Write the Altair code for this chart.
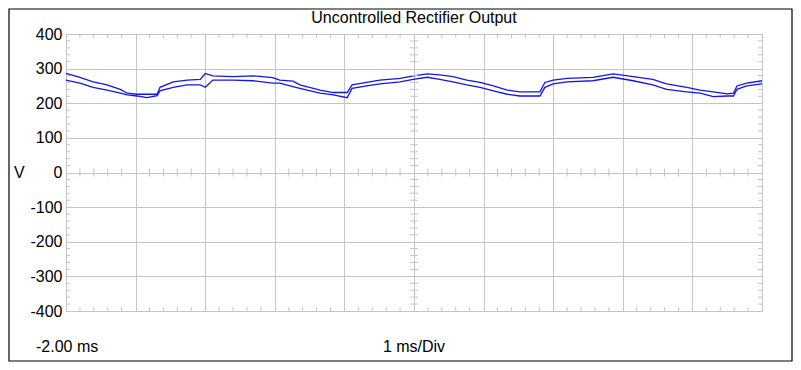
import altair as alt
import numpy as np
import pandas as pd

# ---- data ----
time_ms = [-2.00, -1.80, -1.61, -1.41, -1.22, -1.12, -0.98, -0.84, -0.69, -0.65,
           -0.46, -0.26, -0.07, 0.00, 0.11, 0.40, 0.69, 0.97, 1.07, 1.26,
           1.36, 1.65, 1.84, 2.04, 2.11, 2.32, 2.51, 2.80, 2.99, 3.19,
           3.37, 3.56, 3.76, 3.95, 4.14, 4.34, 4.52, 4.81, 4.88, 5.00,
           5.20, 5.57, 5.86, 6.15, 6.43, 6.63, 6.92, 7.11, 7.30, 7.50,
           7.59, 7.64, 7.78, 8.00]
upper_v = [286, 275, 262, 253, 240, 229, 226, 226, 226, 246,
           262, 267, 269, 286, 279, 277, 279, 274, 267, 264,
           253, 238, 231, 231, 253, 260, 267, 272, 279, 285,
           282, 277, 267, 260, 250, 238, 233, 233, 260, 267,
           272, 275, 285, 277, 269, 256, 246, 238, 233, 227,
           229, 250, 258, 265]
lower_v = [267, 258, 246, 238, 229, 224, 221, 216, 222, 236,
           246, 253, 253, 246, 267, 267, 265, 258, 258, 248,
           243, 229, 224, 216, 243, 250, 256, 262, 269, 275,
           269, 262, 253, 246, 236, 226, 221, 221, 246, 256,
           262, 265, 275, 265, 253, 240, 233, 229, 219, 221,
           221, 240, 250, 256]

x_major = [-2, -1, 0, 1, 2, 3, 4, 5, 6, 7, 8]
y_major = [-400, -300, -200, -100, 0, 100, 200, 300, 400]

title_text = "Uncontrolled Rectifier Output"
y_unit = "V"
x_start_label = "-2.00 ms"
x_div_label = "1 ms/Div"

# ---- layout ----
W, H = 696, 277
PAD = {"left": 58, "top": 26, "right": 31, "bottom": 51}
FONT = "Liberation Sans"
FS = 16
GRID = "#c4c4c4"
TRACE = "#1414f0"

xs = alt.Scale(domain=[-2, 8], nice=False, zero=False)
ys = alt.Scale(domain=[-400, 400], nice=False, zero=False)

trace_df = pd.concat([
    pd.DataFrame({"t": time_ms, "v": upper_v, "s": "upper"}),
    pd.DataFrame({"t": time_ms, "v": lower_v, "s": "lower"}),
])

# minor tick marks (1/5 division)
xt = [round(v, 2) for v in np.arange(-2, 8.001, 0.2) if abs(v - round(v)) > 1e-6]
yt = [int(v) for v in np.arange(-400, 401, 20) if int(v) % 100 != 0]
dx = 4 * 10 / W       # 4 px in ms
dy = 4 * 800 / H      # 4 px in V
xt_rows = []
for t in xt:
    xt_rows += [{"t": t, "a": 400, "b": 400 - dy},
                {"t": t, "a": -400, "b": -400 + dy},
                {"t": t, "a": -dy, "b": dy}]
yt_rows = []
for v in yt:
    yt_rows += [{"v": v, "a": -2, "b": -2 + dx},
                {"v": v, "a": 8, "b": 8 - dx},
                {"v": v, "a": 3 - dx, "b": 3 + dx}]

axis_x = alt.Axis(values=x_major, labels=False, ticks=False, domain=False,
                  title=None, grid=True, gridColor=GRID, gridWidth=1)
axis_y = alt.Axis(values=y_major, ticks=False, domain=False, title=None,
                  grid=True, gridColor=GRID, gridWidth=1,
                  labelFont=FONT, labelFontSize=FS, labelColor="black",
                  labelPadding=4, labelOverlap=False,
                  labelExpr="'' + datum.value")

lines = alt.Chart(trace_df).mark_line(strokeWidth=1.3, color=TRACE).encode(
    x=alt.X("t:Q", scale=xs, axis=axis_x),
    y=alt.Y("v:Q", scale=ys, axis=axis_y),
    detail="s:N",
)

xticks = alt.Chart(pd.DataFrame(xt_rows)).mark_rule(color=GRID, strokeWidth=1).encode(
    x=alt.X("t:Q", scale=xs, axis=axis_x),
    y=alt.Y("a:Q", scale=ys, axis=axis_y), y2="b:Q")
yticks = alt.Chart(pd.DataFrame(yt_rows)).mark_rule(color=GRID, strokeWidth=1).encode(
    y=alt.Y("v:Q", scale=ys, axis=axis_y),
    x=alt.X("a:Q", scale=xs, axis=axis_x), x2="b:Q")

txt = dict(font=FONT, fontSize=FS, color="black")
title_mark = alt.Chart(pd.DataFrame({"s": [title_text]})).mark_text(align="center", baseline="middle", **txt).encode(
    x=alt.value(W / 2), y=alt.value(-16), text="s:N")
v_label = alt.Chart(pd.DataFrame({"s": [y_unit]})).mark_text(align="left", baseline="middle", **txt).encode(
    x=alt.value(-52), y=alt.value(H / 2), text="s:N")
start_label = alt.Chart(pd.DataFrame({"s": [x_start_label]})).mark_text(align="left", baseline="middle", **txt).encode(
    x=alt.value(-30), y=alt.value(H + 36), text="s:N")
div_label = alt.Chart(pd.DataFrame({"s": [x_div_label]})).mark_text(align="center", baseline="middle", **txt).encode(
    x=alt.value(W / 2), y=alt.value(H + 36), text="s:N")
frame = alt.Chart(pd.DataFrame({"s": [0]})).mark_rect(fill=None, stroke="black", strokeWidth=1.2).encode(
    x=alt.value(-PAD["left"] + 1), x2=alt.value(W + PAD["right"] - 1),
    y=alt.value(-PAD["top"] + 1), y2=alt.value(H + PAD["bottom"] - 1))

chart = alt.layer(lines, xticks, yticks, title_mark, v_label, start_label, div_label, frame).properties(
    width=W, height=H,
    autosize=alt.AutoSizeParams(type="none"),
    padding=PAD,
).configure_view(stroke="#b0b0b0", strokeWidth=1).configure(background="white")

chart.save("out.html", embed_options={"renderer": "svg", "actions": False})
